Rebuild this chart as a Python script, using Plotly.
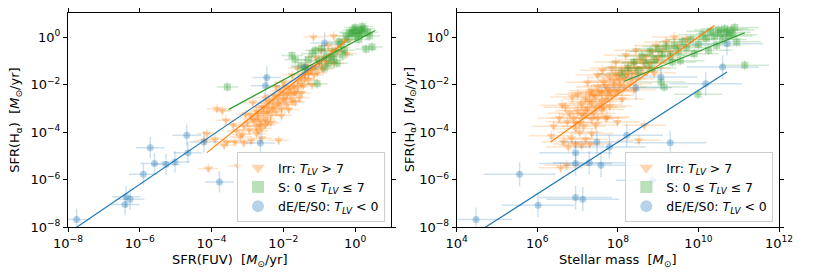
import plotly.graph_objects as go

# ---------------- data (log10 values) ----------------
# Left panel: x = log SFR(FUV), y = log SFR(Halpha)
irr_fuv = [-4.09,-3.25,-4.13,-3.85,-3.57,-3.35,-3.10,-2.90,-2.75,-2.13,-3.65,-3.20,-2.60,-4.20,-3.90,
           -3.00,-2.90,-2.80,-2.75,-2.70,-2.65,-2.60,-2.55,-2.50,-2.45,-2.40,-2.35,-2.30,-2.25,-2.20,
           -2.15,-2.10,-2.05,-2.00,-1.95,-1.90,-1.85,-1.80,-1.75,-1.70,-1.65,-1.60,-1.55,-1.50,-1.45,
           -1.40,-1.30,-1.25,-1.15,-1.10,-1.00,-0.90,-0.85,-0.70,-0.60,-0.50,-0.40,-0.23,-1.16,-0.95,
           -2.95,-3.10,-3.30,-2.85,-2.50,-2.20,-1.75,-1.35,-2.60,-2.35,-2.05,-1.85,-1.50,-1.20,-3.40,
           -3.60,-3.70,-2.00,-1.60,-0.75,-0.60,-0.30,-1.67,-2.45,-2.70,-3.05,
           -2.85,-2.70,-2.55,-2.40,-2.30,-2.15,-2.00,-1.90,-1.80,-1.70,-1.60,-1.50,-1.40,-1.30,-1.20,
           -1.05,-0.95,-0.80,-2.65,-2.45,-2.25,-2.10,-1.95,-2.75,-2.50,-3.15,-1.10,-0.65]
irr_ha_l = [-5.53,-5.42,-4.06,-3.01,-4.41,-4.40,-4.45,-4.35,-4.05,-4.34,-4.55,-4.20,-4.25,-4.35,-4.30,
            -3.60,-3.30,-3.50,-3.10,-3.35,-3.70,-2.95,-3.20,-3.45,-2.80,-3.05,-3.30,-2.65,-2.90,-3.15,
            -2.50,-2.75,-3.00,-2.35,-2.60,-2.85,-2.20,-2.45,-2.70,-2.05,-2.30,-1.85,-2.55,-1.70,-2.05,
            -1.55,-1.80,-1.40,-1.60,-1.25,-1.05,-1.35,-0.90,-0.80,-1.10,-0.60,-0.45,-0.70,0.00,-0.55,
            -3.90,-3.75,-3.95,-2.75,-2.55,-2.10,-1.60,-1.20,-3.85,-3.60,-3.30,-3.05,-2.35,-2.00,-3.70,
            -3.50,-3.10,-1.90,-1.30,-0.35,0.05,-0.15,-2.73,-3.55,-3.95,-3.25,
            -3.45,-3.20,-2.95,-2.70,-3.00,-2.80,-2.60,-2.40,-2.15,-2.35,-2.10,-1.95,-1.75,-1.55,-1.35,
            -1.50,-1.20,-1.05,-3.55,-3.15,-2.45,-2.25,-2.05,-3.75,-3.70,-4.10,-0.85,-0.55]

s_fuv = [-3.56,-1.76,-1.20,-1.06,0.47,0.30,-0.65,-0.74,-1.39,-1.67,-0.93,-0.55,-0.40,-0.30,-0.20,
         -0.10,0.00,0.05,0.10,0.15,0.20,0.25,-0.05,0.35,-0.15,0.40,0.10,-0.25,-0.45,-0.80,
         -1.00,-0.85,-1.10,-0.60,-0.35,0.00,0.20,-1.30,-0.50,-1.50]
s_ha_l = [-2.10,-0.77,-0.70,-1.96,-0.42,-0.50,-0.84,-1.12,-1.35,-0.95,-0.49,-0.60,-0.30,-0.55,-0.10,
          0.15,0.05,0.25,0.10,0.30,0.15,0.35,0.30,0.20,0.20,0.05,-0.10,0.05,-0.20,-0.80,
          -1.00,-1.30,-0.55,-0.95,-0.75,0.40,0.45,-0.95,-1.10,-1.20]

e_fuv = [-7.76,-6.41,-6.27,-6.38,-5.90,-5.71,-5.59,-5.27,-5.02,-4.69,-4.66,-4.21,-3.78,-2.64,-2.46,
         -2.50,-0.85,-1.39]
e_ha_l = [-7.67,-7.04,-6.82,-6.72,-5.77,-4.65,-5.32,-5.36,-5.25,-4.13,-4.86,-4.41,-6.09,-4.45,-1.70,
          -2.05,-0.25,-1.26]

# Right panel: x = log stellar mass, y = log SFR(Halpha)
irr_mass = [6.58,6.73,6.77,6.95,7.10,7.31,6.35,6.40,7.35,8.52,8.66,7.99,7.74,6.62,6.87,7.62,8.95,9.20,
            6.85,7.05,7.20,6.65,
            6.90,7.00,7.05,7.10,7.15,7.20,7.25,7.30,7.35,7.40,7.45,7.50,7.55,7.60,7.65,7.70,7.75,7.80,
            7.85,7.90,7.95,8.00,8.05,8.10,8.15,8.20,8.25,8.30,8.35,8.40,8.50,8.55,8.60,8.70,8.80,8.85,
            9.00,9.10,9.30,9.50,7.00,7.25,7.50,7.35,7.60,7.80,8.10,8.40,6.95,6.75,6.80,7.15,7.45,7.70,
            6.55,6.70,7.95,8.20,8.45,7.85,9.70,9.40,8.90,
            7.20,7.30,7.40,7.45,7.55,7.60,7.70,7.75,7.80,7.90,7.95,8.05,8.15,8.25,8.35,8.45,8.65,8.75,
            8.95,7.10,7.35,7.65,8.00,6.95,7.50]
irr_ha_r = [-5.50,-5.39,-4.62,-4.50,-4.55,-4.48,-4.15,-3.75,-4.06,-4.34,-3.71,-3.57,-3.36,-2.87,-2.52,-1.40,-0.35,-0.21,
            -4.25,-4.00,-4.30,-4.40,
            -3.40,-3.10,-3.60,-2.80,-3.30,-2.60,-3.00,-2.35,-2.75,-3.20,-2.50,-2.10,-2.85,-2.35,-1.90,-2.60,-2.20,-1.70,
            -2.45,-2.00,-1.55,-2.25,-1.80,-1.40,-2.10,-1.60,-1.25,-1.95,-1.45,-1.10,-1.60,-0.95,-1.30,-0.80,-1.10,-0.60,
            -0.85,-0.55,-0.65,-0.40,-2.40,-1.90,-1.60,-3.45,-3.05,-2.90,-2.60,-2.20,-3.85,-3.55,-3.20,-3.75,-3.70,-3.40,
            -3.40,-2.95,-1.05,-0.75,-0.55,-1.30,-0.10,0.00,-1.50,
            -3.10,-2.70,-2.45,-2.95,-2.30,-2.70,-2.05,-2.45,-2.25,-1.85,-2.30,-2.00,-1.75,-1.50,-1.75,-1.30,-1.05,-1.30,
            -0.95,-3.25,-2.25,-2.95,-1.65,-3.60,-3.40]

s_mass = [8.10,8.25,8.40,8.50,8.60,8.70,8.80,8.90,9.00,9.07,9.15,9.10,9.20,9.30,9.40,9.50,9.55,9.60,9.70,
          9.80,9.90,9.99,10.00,10.10,10.20,10.30,10.40,10.50,10.55,10.60,10.65,10.70,10.75,10.80,10.85,
          11.15,10.45,10.90,9.35,8.85,10.25,10.95]
s_ha_r = [-1.55,-1.30,-1.05,-1.40,-0.80,-1.10,-0.60,-0.95,-0.50,-1.89,-2.10,-0.75,-0.40,-0.80,-0.35,-0.60,-1.00,-0.20,-0.45,
          -0.10,-0.70,-2.40,-0.30,0.10,-0.05,0.25,0.05,0.30,0.15,-0.10,0.35,0.20,0.05,0.30,0.10,
          -1.19,-0.35,0.40,-1.05,-1.30,-0.55,-0.20]

e_mass = [4.48,5.56,6.02,6.95,7.13,6.95,6.95,7.29,7.58,7.48,7.79,8.22,9.30,8.86,9.07,10.60,10.18,10.71,8.45]
e_ha_r = [-7.67,-5.77,-7.07,-6.75,-6.82,-4.86,-5.32,-5.29,-5.39,-4.41,-4.62,-4.13,-4.44,-6.02,-1.68,-1.26,-1.96,-0.28,-2.13]

# typical log uncertainties (dex) per group
err_left = {"irr": (0.28, 0.20), "s": (0.30, 0.20), "e": (0.40, 0.45)}
err_right = {"irr": (0.55, 0.22), "s": (0.60, 0.20), "e": (0.90, 0.50)}

# fit lines (log endpoints)
fit_left = {"e": ([-7.76, -0.78], [-8.0, -0.84]),
            "irr": ([-4.13, -0.18], [-4.86, -0.07]),
            "s": ([-3.53, 0.56], [-3.05, 0.28])}
fit_right = {"e": ([4.71, 10.71], [-8.0, -1.47]),
             "irr": ([6.33, 10.40], [-4.41, 0.49]),
             "s": ([8.16, 11.15], [-1.86, 0.18])}

labels = {"irr": "Irr: <i>T</i><sub><i>LV</i></sub> &gt; 7",
          "s": "S: 0 ≤ <i>T</i><sub><i>LV</i></sub> ≤ 7",
          "e": "dE/E/S0: <i>T</i><sub><i>LV</i></sub> &lt; 0"}

x_ticks_left = [-8, -6, -4, -2, 0]
x_ticks_right = [4, 6, 8, 10, 12]
y_ticks = [-8, -6, -4, -2, 0]

# ---------------- styling ----------------
rgb = {"irr": (255, 127, 14), "s": (44, 160, 44), "e": (31, 119, 180)}
symbols = {"irr": "triangle-down", "s": "square", "e": "circle"}


def rgba(k, a):
    r, g, b = rgb[k]
    return f"rgba({r},{g},{b},{a})"


def err(vals, e):
    lin = [10 ** v for v in vals]
    plus = [x * (10 ** e - 1) for x in lin]
    minus = [x * (1 - 10 ** (-e)) for x in lin]
    return lin, plus, minus


def tick_text(v):
    if v < 0:
        return f"10<sup>−{-v}</sup>"
    return f"10<sup>{v}</sup>"


fig = go.Figure()

panels = [
    ("x", "y", "legend", {"irr": (irr_fuv, irr_ha_l), "s": (s_fuv, s_ha_l), "e": (e_fuv, e_ha_l)}, err_left, fit_left),
    ("x2", "y2", "legend2", {"irr": (irr_mass, irr_ha_r), "s": (s_mass, s_ha_r), "e": (e_mass, e_ha_r)}, err_right, fit_right),
]

for xa, ya, lg, groups, errs, fits in panels:
    for k in ["irr", "s", "e"]:
        xs, ys = groups[k]
        ex, ey = errs[k]
        xl, xp, xm = err(xs, ex)
        yl, yp, ym = err(ys, ey)
        fig.add_trace(go.Scatter(
            x=xl, y=yl, mode="markers", name=labels[k], xaxis=xa, yaxis=ya, legend=lg,
            marker=dict(symbol=symbols[k], size=7 if k != "irr" else 8, color=rgba(k, 0.33), line=dict(width=0)),
            error_x=dict(type="data", symmetric=False, array=xp, arrayminus=xm,
                         color=rgba(k, 0.22), thickness=1.5, width=0),
            error_y=dict(type="data", symmetric=False, array=yp, arrayminus=ym,
                         color=rgba(k, 0.22), thickness=1.5, width=0),
        ))
    for k in ["e", "irr", "s"]:
        fx, fy = fits[k]
        fig.add_trace(go.Scatter(
            x=[10 ** v for v in fx], y=[10 ** v for v in fy], mode="lines", xaxis=xa, yaxis=ya,
            line=dict(color=rgba(k, 1), width=1.2), showlegend=False, hoverinfo="skip"))

W, H = 830, 277
y_dom = [1 - 227.3 / H, 1 - 13.3 / H]
font = dict(family="DejaVu Sans, sans-serif", size=12, color="black")

axis_common = dict(type="log", showgrid=False, zeroline=False, showline=True, linecolor="black",
                   linewidth=1, mirror="ticks", ticks="outside", ticklen=4, tickcolor="black",
                   tickfont=dict(size=13), automargin=False)

fig.update_layout(
    width=W, height=H, margin=dict(l=0, r=0, t=0, b=0),
    paper_bgcolor="white", plot_bgcolor="white", font=font,
    xaxis=dict(domain=[68 / W, 391 / W], range=[-8, 1], anchor="y",
               tickvals=[10 ** v for v in x_ticks_left], ticktext=[tick_text(v) for v in x_ticks_left], **axis_common),
    yaxis=dict(domain=y_dom, range=[-8, 1], anchor="x",
               tickvals=[10 ** v for v in y_ticks], ticktext=[tick_text(v) for v in y_ticks], **axis_common),
    xaxis2=dict(domain=[456.7 / W, 779 / W], range=[4, 12], anchor="y2",
                tickvals=[10 ** v for v in x_ticks_right], ticktext=[tick_text(v) for v in x_ticks_right], **axis_common),
    yaxis2=dict(domain=y_dom, range=[-8, 1], anchor="x2",
                tickvals=[10 ** v for v in y_ticks], ticktext=[tick_text(v) for v in y_ticks], **axis_common),
    legend=dict(x=385 / W, y=1 - 222 / H, xanchor="right", yanchor="bottom",
                bgcolor="rgba(255,255,255,0.8)", bordercolor="#cccccc", borderwidth=1,
                font=dict(size=12.5), tracegroupgap=0, itemsizing="constant"),
    legend2=dict(x=773.3 / W, y=1 - 222 / H, xanchor="right", yanchor="bottom",
                 bgcolor="rgba(255,255,255,0.8)", bordercolor="#cccccc", borderwidth=1,
                 font=dict(size=12.5), tracegroupgap=0, itemsizing="constant"),
    showlegend=True,
)

sp = "\u00a0\u00a0"
ytitle = f"SFR(H<sub>α</sub>){sp}[<i>M</i><sub>⊙</sub>/yr]"
annots = [
    dict(text=f"SFR(FUV){sp}[<i>M</i><sub>⊙</sub>/yr]", x=229.5 / W, y=1 - 260 / H),
    dict(text=f"Stellar mass{sp}[<i>M</i><sub>⊙</sub>]", x=617.8 / W, y=1 - 260 / H),
    dict(text=ytitle, x=15.5 / W, y=1 - 120.3 / H, textangle=-90),
    dict(text=ytitle, x=410 / W, y=1 - 120.3 / H, textangle=-90),
]
for a in annots:
    fig.add_annotation(xref="paper", yref="paper", showarrow=False, xanchor="center", yanchor="middle",
                       font=dict(size=13), **a)

fig.write_html("out.html", config={"displayModeBar": False},
               post_script="document.body.style.margin='0px';")
